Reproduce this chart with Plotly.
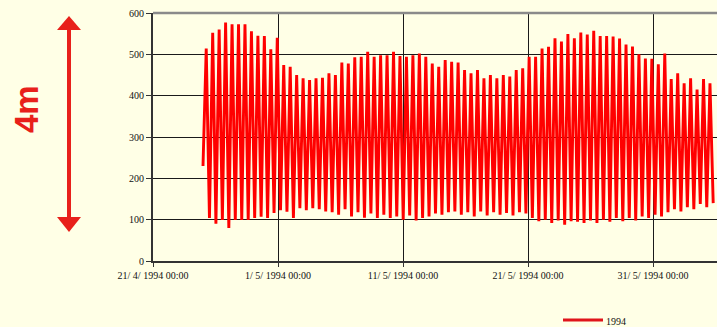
import pandas as pd
import plotly.graph_objects as go

# Tide gauge record, spring/neap cycle, April-June 1994 (cm above datum)
start_level = 230
high_water = [
    514, 552, 560, 577, 573, 573, 573, 556, 545, 544, 512, 540,
    474, 470, 450, 442, 438, 442,
    443, 454, 450, 480, 478, 493, 494, 506, 494, 498, 498, 506, 496, 494, 498, 502, 494, 478, 470, 486,
    482, 480, 462, 454, 462, 442, 450, 442, 450, 446, 462, 466, 494, 494, 514, 518, 539, 531, 549,
    539, 553, 548, 557, 544, 544, 543, 538, 524, 519, 500, 490, 489, 476, 502, 440, 454, 430, 442, 415, 440, 430,
]
low_water = [
    104, 90, 99, 80, 99, 99, 99, 104, 107, 104, 116, 123,
    119, 104, 128, 123, 128, 125,
    120, 118, 112, 125, 108, 118, 105, 115, 104, 112, 104, 108, 100, 110, 98, 104, 108, 115, 112, 118,
    120, 112, 118, 108, 120, 110, 118, 112, 116, 110, 118, 115, 104, 96, 100, 92, 98, 88, 96,
    95, 92, 98, 92, 100, 95, 104, 96, 104, 98, 108, 104, 112, 108, 118, 125, 120, 130, 125, 138, 130, 140,
]

x_tick_dates = ["1994-04-21", "1994-05-01", "1994-05-11", "1994-05-21", "1994-05-31"]
x_tick_labels = ["21/ 4/ 1994 00:00", "1/ 5/ 1994 00:00", "11/ 5/ 1994 00:00",
                 "21/ 5/ 1994 00:00", "31/ 5/ 1994 00:00"]
y_ticks = [0, 100, 200, 300, 400, 500, 600]
series_name = "1994"

# alternate high and low water, half a tidal cycle apart
levels = [start_level]
for hw, lw in zip(high_water, low_water):
    levels += [hw, lw]
times = pd.date_range("1994-04-25 00:00", periods=len(levels), freq="372min")

W, H = 717, 327
L, R, T, B = 153, 717, 13, 261


def px(x):
    return (x - L) / (R - L)


def py(y):
    return (B - y) / (B - T)


line_red = "#FF0000"
fig = go.Figure()
fig.add_trace(go.Scatter(
    x=times, y=levels, mode="lines", name=series_name, showlegend=False,
    line=dict(color=line_red, width=2.9),
))

red = "#E8201A"
shapes = [
    # frame line along the top of the plot
    dict(type="line", xref="paper", yref="paper", x0=0, x1=1, y0=1, y1=1,
         line=dict(color="#8A8A8A", width=2.5), layer="above"),
    # double-headed scale arrow
    dict(type="line", xref="paper", yref="paper", x0=px(69), x1=px(69), y0=py(28), y1=py(219),
         line=dict(color=red, width=4)),
    dict(type="path", xref="paper", yref="paper",
         path=f"M {px(57)} {py(30)} L {px(69)} {py(16)} L {px(81)} {py(30)} Z",
         fillcolor=red, line=dict(color=red, width=0)),
    dict(type="path", xref="paper", yref="paper",
         path=f"M {px(57)} {py(217)} L {px(69)} {py(232)} L {px(81)} {py(217)} Z",
         fillcolor=red, line=dict(color=red, width=0)),
    # legend key
    dict(type="line", xref="paper", yref="paper", x0=px(563), x1=px(603), y0=py(320), y1=py(320),
         line=dict(color="#E0141A", width=3)),
]

serif = "Liberation Serif, Times New Roman, serif"
annotations = [
    dict(text="<b>4m</b>", xref="paper", yref="paper", x=px(26), y=py(109),
         showarrow=False, textangle=-90, xanchor="center", yanchor="middle",
         font=dict(family="Liberation Sans, Arial, sans-serif", size=33, color=red)),
    dict(text=series_name, xref="paper", yref="paper", x=px(604), y=py(321),
         showarrow=False, xanchor="left", yanchor="middle",
         font=dict(family=serif, size=10, color="#111111")),
]

fig.update_layout(
    width=W, height=H,
    margin=dict(l=L, r=W - R, t=T, b=H - B, autoexpand=False),
    paper_bgcolor="#FFFFE6", plot_bgcolor="#FFFFE6",
    font=dict(family=serif, size=10, color="#111111"),
    shapes=shapes, annotations=annotations,
    xaxis=dict(
        type="date",
        range=["1994-04-21 00:00", "1994-06-05 02:53"],
        tickvals=x_tick_dates, ticktext=x_tick_labels,
        tickangle=0,
        showgrid=True, gridcolor="#1A1A1A", gridwidth=1,
        showline=True, linecolor="#333333", linewidth=2,
        ticks="outside", ticklen=4, tickcolor="#333333",
        zeroline=False,
        tickfont=dict(family=serif, size=10, color="#111111"),
    ),
    yaxis=dict(
        range=[0, 600], tickvals=y_ticks,
        showgrid=True, gridcolor="#1A1A1A", gridwidth=1,
        showline=True, linecolor="#333333", linewidth=2,
        ticks="outside", ticklen=5, tickcolor="#333333",
        zeroline=False,
        tickfont=dict(family=serif, size=10, color="#111111"),
    ),
)

fig.write_html("out.html")
